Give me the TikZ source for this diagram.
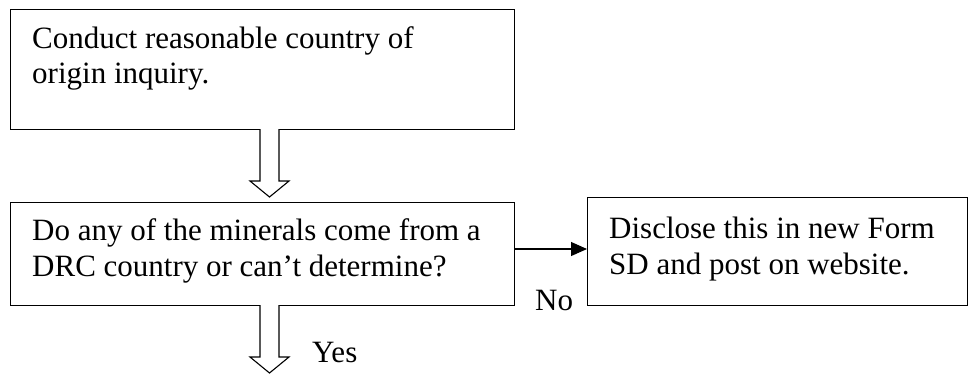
\documentclass[tikz,border=0pt]{standalone}
\usepackage{fontspec}
\setmainfont{Liberation Serif}
\usetikzlibrary{arrows.meta}
\begin{document}
\begin{tikzpicture}[x=1pt,y=-1pt,
  boxstyle/.style={draw,line width=1.3pt,inner sep=0pt},
  txt/.style={anchor=base west,inner sep=0pt,font=\fontsize{31}{35}\selectfont},
  blockarrow/.style={draw,line width=1.1pt,fill=white,line join=miter}]
\useasboundingbox (0,0) rectangle (974,373);
% boxes
\node[boxstyle,minimum width=504pt,minimum height=120pt,anchor=north west] (b1) at (10,9) {};
\node[boxstyle,minimum width=504pt,minimum height=103pt,anchor=north west] (b2) at (10,202) {};
\node[boxstyle,minimum width=380pt,minimum height=108pt,anchor=north west] (b3) at (587,197) {};
% texts
\node[txt] (t1a) at (32,48) {Conduct reasonable country of};
\node[txt] (t1b) at (32,83) {origin inquiry.};
\node[txt] (t2a) at (32,240) {Do any of the minerals come from a};
\node[txt] (t2b) at (32,276) {DRC country or can’t determine?};
\node[txt] (t3a) at (609,238) {Disclose this in new Form};
\node[txt] (t3b) at (609,274) {SD and post on website.};
\node[txt] (no) at (535,310) {No};
\node[txt] (yes) at (312,362) {Yes};
% block arrows
\coordinate (a1) at (269.5,129);
\draw[blockarrow] ([xshift=-9.5pt]a1) -- ++(0,52) -- ++(-10,0) -- (269.5,197) -- (289,181) -- ++(-10,0) -- ([xshift=9.5pt]a1);
\coordinate (a2) at (269.5,305);
\draw[blockarrow] ([xshift=-9.5pt]a2) -- ++(0,52) -- ++(-10,0) -- (269.5,373) -- (289,357) -- ++(-10,0) -- ([xshift=9.5pt]a2);
% horizontal arrow
\draw[line width=1.1pt,-{Triangle[length=16pt,width=14pt]}] (b2.east |- 0,249) -- (b3.west |- 0,249);
\end{tikzpicture}
\end{document}
